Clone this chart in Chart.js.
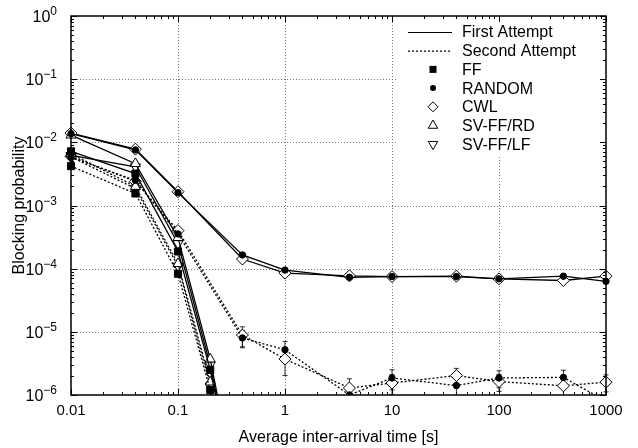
<!DOCTYPE html>
<html><head><meta charset="utf-8">
<script src="https://cdn.jsdelivr.net/npm/chart.js@4/dist/chart.umd.min.js"></script>
<style>html,body{margin:0;padding:0;background:#fff}</style>
</head><body>
<canvas id="c" width="638" height="448"></canvas>
<script>
// ---- data ----
const xUpper = [0.01, 0.04, 0.1, 0.4, 1, 4, 10, 40, 100, 400, 1000];
const xLower = [0.01, 0.04, 0.1, 0.2, 0.4];

const cwlFirst     = [1.40e-2, 7.8e-3, 1.65e-3, 1.42e-4, 8.5e-5, 7.7e-5, 7.5e-5, 7.6e-5, 6.9e-5, 6.5e-5, 7.6e-5];
const randomFirst  = [1.37e-2, 7.6e-3, 1.60e-3, 1.65e-4, 9.5e-5, 7.3e-5, 7.5e-5, 7.5e-5, 6.9e-5, 7.6e-5, 6.3e-5];
const cwlSecond    = [6.0e-3, 2.4e-3, 4.0e-4, 8.9e-6, 3.7e-6, 1.29e-6, 1.55e-6, 2.03e-6, 1.63e-6, 1.4e-6, 1.6e-6];
const randomSecond = [5.8e-3, 2.5e-3, 3.55e-4, 8.0e-6, 5.2e-6, 1.0e-6, 1.86e-6, 1.41e-6, 1.86e-6, 1.9e-6, 8e-7];
// relative half-width of the 95% confidence intervals (second attempt, long inter-arrival times)
const cwlSecondErr    = [0, 0, 0, 0.35, 0.45, 0.4, 0.35, 0.3, 0.3, 0.35, 0.3];
const randomSecondErr = [0, 0, 0, 0.3, 0.35, 0.4, 0.35, 0.35, 0.3, 0.3, 0];

const ffFirst   = [7.2e-3, 3.2e-3, 1.87e-4, 2.5e-6, 1e-8];
const ffSecond  = [4.2e-3, 1.55e-3, 8.3e-5, 1.2e-6, 1e-9];
const rdFirst   = [1.3e-2, 4.6e-3, 3.1e-4, 3.7e-6, 1e-8];
const rdSecond  = [6.6e-3, 2.0e-3, 1.2e-4, 1.6e-6, 1e-9];
const lfFirst   = [6.2e-3, 4.1e-3, 2.5e-4, 3.0e-6, 1e-8];
const lfSecond  = [5.9e-3, 1.85e-3, 1.1e-4, 1.4e-6, 1e-9];

const xTickLabels = ['0.01', '0.1', '1', '10', '100', '1000'];
const yTickExponents = ['0', '-1', '-2', '-3', '-4', '-5', '-6'];
const legendLabels = ['First Attempt', 'Second Attempt', 'FF', 'RANDOM', 'CWL', 'SV-FF/RD', 'SV-FF/LF'];
const legendSymbols = ['solid', 'dotted', 'square', 'circle', 'diamond', 'triangle', 'triangleDown'];
const xTitle = 'Average inter-arrival time [s]';
const yTitle = 'Blocking probability';

// ---- styling ----
const FONT = '"Liberation Sans", Arial, Helvetica, sans-serif';
const MARK = {
  square:       {pointStyle: 'rect',     pointRadius: 5,   fill: '#000', rot: 0},
  circle:       {pointStyle: 'circle',   pointRadius: 3.2, fill: '#000', rot: 0},
  diamond:      {pointStyle: 'rectRot',  pointRadius: 6,   fill: '#fff', rot: 0},
  triangle:     {pointStyle: 'triangle', pointRadius: 5.8, fill: '#fff', rot: 0},
  triangleDown: {pointStyle: 'triangle', pointRadius: 5.8, fill: '#fff', rot: 180}
};

function series(label, xs, ys, mark, dotted, errs) {
  const m = MARK[mark];
  return {
    label,
    data: xs.map((x, i) => ({x, y: ys[i]})),
    errors: errs || null,
    showLine: true,
    borderColor: '#000',
    borderWidth: 1.3,
    borderDash: dotted ? [2, 2] : [],
    pointStyle: m.pointStyle,
    pointRadius: m.pointRadius,
    pointHoverRadius: m.pointRadius,
    pointRotation: m.rot,
    pointBackgroundColor: m.fill,
    pointBorderColor: '#000',
    pointBorderWidth: 1,
    clip: {left: 10, top: 10, right: 10, bottom: 0},
    tension: 0
  };
}

const datasets = [
  series('FF first', xLower, ffFirst, 'square', false),
  series('FF second', xLower, ffSecond, 'square', true),
  series('RANDOM first', xUpper, randomFirst, 'circle', false),
  series('RANDOM second', xUpper, randomSecond, 'circle', true, randomSecondErr),
  series('SV-FF/RD first', xLower, rdFirst, 'triangle', false),
  series('SV-FF/RD second', xLower, rdSecond, 'triangle', true),
  series('SV-FF/LF first', xLower, lfFirst, 'triangleDown', false),
  series('SV-FF/LF second', xLower, lfSecond, 'triangleDown', true),
  series('CWL first', xUpper, cwlFirst, 'diamond', false),
  series('CWL second', xUpper, cwlSecond, 'diamond', true, cwlSecondErr)
];

function drawMarker(ctx, kind, cx, cy, r) {
  ctx.save();
  ctx.setLineDash([]);
  ctx.lineWidth = 1;
  ctx.strokeStyle = '#000';
  ctx.beginPath();
  if (kind === 'square') {
    ctx.rect(cx - r, cy - r, 2 * r, 2 * r);
    ctx.fillStyle = '#000'; ctx.fill();
  } else if (kind === 'circle') {
    ctx.arc(cx, cy, r, 0, Math.PI * 2);
    ctx.fillStyle = '#000'; ctx.fill();
  } else if (kind === 'diamond') {
    ctx.moveTo(cx - r, cy); ctx.lineTo(cx, cy - r); ctx.lineTo(cx + r, cy); ctx.lineTo(cx, cy + r); ctx.closePath();
    ctx.fillStyle = '#fff'; ctx.fill(); ctx.stroke();
  } else if (kind === 'triangle' || kind === 'triangleDown') {
    const s = kind === 'triangle' ? 1 : -1;
    ctx.moveTo(cx, cy - s * r);
    ctx.lineTo(cx + r * 0.866, cy + s * r * 0.5);
    ctx.lineTo(cx - r * 0.866, cy + s * r * 0.5);
    ctx.closePath();
    ctx.fillStyle = '#fff'; ctx.fill(); ctx.stroke();
  }
  ctx.restore();
}

const decor = {
  id: 'decor',
  beforeDatasetsDraw(chart) {
    const {ctx, chartArea: a, scales: {x, y}} = chart;
    ctx.save();
    ctx.strokeStyle = '#777';
    ctx.lineWidth = 1;
    ctx.setLineDash([1, 2]);
    xTickLabels.forEach(t => {
      const px = Math.round(x.getPixelForValue(parseFloat(t))) + 0.5;
      if (px <= a.left + 1 || px >= a.right - 1) return;
      ctx.beginPath(); ctx.moveTo(px, a.top); ctx.lineTo(px, a.bottom); ctx.stroke();
    });
    yTickExponents.forEach(e => {
      const py = Math.round(y.getPixelForValue(Math.pow(10, +e))) + 0.5;
      if (py <= a.top + 1 || py >= a.bottom - 1) return;
      ctx.beginPath(); ctx.moveTo(a.left, py); ctx.lineTo(a.right, py); ctx.stroke();
    });
    // error bars (drawn beneath the markers)
    ctx.setLineDash([]);
    ctx.strokeStyle = '#000';
    ctx.lineWidth = 0.8;
    ctx.beginPath(); ctx.rect(a.left - 10, a.top, a.right - a.left + 20, a.bottom - a.top); ctx.clip();
    chart.data.datasets.forEach(ds => {
      if (!ds.errors) return;
      ds.data.forEach((p, i) => {
        const er = ds.errors[i];
        if (!er) return;
        const px = x.getPixelForValue(p.x);
        const y1 = y.getPixelForValue(p.y * (1 + er));
        const y2 = y.getPixelForValue(p.y * (1 - er));
        ctx.beginPath();
        ctx.moveTo(px, y1); ctx.lineTo(px, y2);
        ctx.moveTo(px - 2.5, y1); ctx.lineTo(px + 2.5, y1);
        ctx.moveTo(px - 2.5, y2); ctx.lineTo(px + 2.5, y2);
        ctx.stroke();
      });
    });
    ctx.restore();
  },
  afterDatasetsDraw(chart) {
    const {ctx, chartArea: a, scales: {x, y}} = chart;
    ctx.save();
    // legend
    const lL = a.right - 209, lT = a.top, lB = a.top + 141;
    ctx.fillStyle = '#fff';
    ctx.fillRect(lL, lT, a.right - lL, lB - lT);
    ctx.font = '16px ' + FONT;
    ctx.textBaseline = 'middle';
    ctx.textAlign = 'left';
    legendLabels.forEach((lab, i) => {
      const ry = lT + 16 + i * 18.7;
      const sym = legendSymbols[i];
      if (sym === 'solid' || sym === 'dotted') {
        ctx.save();
        ctx.strokeStyle = '#000'; ctx.lineWidth = 1.2;
        ctx.setLineDash(sym === 'dotted' ? [2, 2] : []);
        ctx.beginPath(); ctx.moveTo(lL + 11, ry + 0.5); ctx.lineTo(lL + 55, ry + 0.5); ctx.stroke();
        ctx.restore();
      } else {
        const r = {square: 3.5, circle: 3, diamond: 5, triangle: 5.5, triangleDown: 5.5}[sym];
        drawMarker(ctx, sym, lL + 36, ry, r);
      }
      ctx.fillStyle = '#000';
      ctx.fillText(lab, lL + 65, ry + 1);
    });
    // frame
    ctx.setLineDash([]);
    ctx.strokeStyle = '#000';
    ctx.lineWidth = 1.5;
    ctx.strokeRect(a.left, a.top, a.right - a.left, a.bottom - a.top);
    // ticks (inward)
    ctx.lineWidth = 1;
    const xv = xTickLabels.map(parseFloat);
    for (let d = 0; d < xv.length; d++) {
      for (let m = 1; m <= 9; m++) {
        const v = xv[d] * m;
        if (v > xv[xv.length - 1] * 1.0001) break;
        const px = Math.round(x.getPixelForValue(v)) + 0.5;
        const len = m === 1 ? 6 : 3;
        ctx.beginPath();
        ctx.moveTo(px, a.bottom); ctx.lineTo(px, a.bottom - len);
        ctx.moveTo(px, a.top); ctx.lineTo(px, a.top + len);
        ctx.stroke();
      }
    }
    const ye = yTickExponents.map(Number).sort((p, q) => p - q);
    for (let d = 0; d < ye.length; d++) {
      for (let m = 1; m <= 9; m++) {
        const v = Math.pow(10, ye[d]) * m;
        if (v > Math.pow(10, ye[ye.length - 1]) * 1.0001) break;
        const py = Math.round(y.getPixelForValue(v)) + 0.5;
        const len = m === 1 ? 6 : 3;
        ctx.beginPath();
        ctx.moveTo(a.left, py); ctx.lineTo(a.left + len, py);
        ctx.moveTo(a.right, py); ctx.lineTo(a.right - len, py);
        ctx.stroke();
      }
    }
    // x tick labels
    ctx.fillStyle = '#000';
    ctx.font = '15px ' + FONT;
    ctx.textAlign = 'center';
    ctx.textBaseline = 'alphabetic';
    xTickLabels.forEach(t => {
      ctx.fillText(t, x.getPixelForValue(parseFloat(t)), a.bottom + 20);
    });
    // y tick labels with superscripts
    yTickExponents.forEach(e => {
      const py = y.getPixelForValue(Math.pow(10, +e));
      const xEnd = a.left - 14;
      const txt = e.replace('-', '\u2212');
      ctx.font = '12px ' + FONT;
      const ew = ctx.measureText(txt).width;
      ctx.textAlign = 'left';
      ctx.fillText(txt, xEnd - ew, py - 1);
      ctx.font = '16px ' + FONT;
      ctx.textAlign = 'right';
      ctx.fillText('10', xEnd - ew, py + 6);
    });
    ctx.restore();
  }
};

new Chart(document.getElementById('c'), {
  type: 'scatter',
  data: {datasets},
  options: {
    responsive: false,
    animation: false,
    devicePixelRatio: 1,
    layout: {padding: {top: 16, right: 32, left: 0, bottom: 0}},
    plugins: {legend: {display: false}, tooltip: {enabled: false}},
    scales: {
      x: {
        type: 'logarithmic', min: 0.01, max: 1000,
        grid: {display: false}, border: {display: false},
        ticks: {display: false},
        title: {display: true, text: xTitle, color: '#000', font: {family: FONT, size: 16}, padding: {top: 0, bottom: 1}},
        afterFit(s) { s.height = 53; }
      },
      y: {
        type: 'logarithmic', min: 1e-6, max: 1,
        grid: {display: false}, border: {display: false},
        ticks: {display: false},
        title: {display: true, text: yTitle, color: '#000', font: {family: FONT, size: 16}, padding: {top: 10, bottom: 0}},
        afterFit(s) { s.width = 71; }
      }
    }
  },
  plugins: [decor]
});
</script>
</body></html>
